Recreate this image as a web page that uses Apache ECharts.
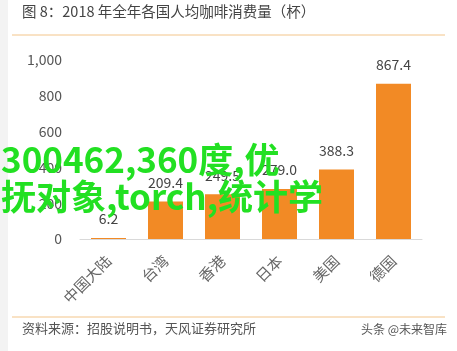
<!DOCTYPE html>
<html>
<head>
<meta charset="utf-8">
<title>2018 年全年各国人均咖啡消费量</title>
<script src="https://cdn.jsdelivr.net/npm/echarts@6/dist/echarts.min.js"></script>
<style>
  html, body { margin: 0; padding: 0; background: #fff; }
  #main { width: 457px; height: 351px; }
</style>
</head>
<body>
<div id="main"></div>
<script type="text/javascript">
// 数据
var regions = ['中国大陆', '台湾', '香港', '日本', '美国', '德国'];
var cups = [6.2, 209.4, 249.5, 279.0, 388.3, 867.4];
var yTicks = [0, 200, 400, 600, 800, 1000];

var font = '"Noto Sans CJK SC", "Noto Sans", sans-serif';
var myChart = echarts.init(document.getElementById('main'));

var option = {
    backgroundColor: '#ffffff',
    animation: false,
    grid: { left: 80, right: 35, top: 60, bottom: 112 },
    xAxis: {
        type: 'category',
        data: regions,
        axisLine: { lineStyle: { color: '#d9d9d9', width: 1 } },
        axisTick: { show: false },
        axisLabel: { rotate: 45, color: '#666', fontSize: 15, fontFamily: font, margin: 19 }
    },
    yAxis: {
        type: 'value',
        min: yTicks[0],
        max: yTicks[yTicks.length - 1],
        interval: 200,
        splitLine: { show: false },
        axisLine: { show: false },
        axisTick: { show: false },
        axisLabel: {
            color: '#555', fontSize: 14, fontFamily: font, margin: 18,
            formatter: function (v) { return v.toLocaleString('en-US'); }
        }
    },
    series: [{
        type: 'bar',
        data: cups,
        barWidth: 35,
        itemStyle: { color: '#f28a25' },
        label: {
            show: true, position: 'top', distance: 12, color: '#444', fontSize: 14, fontFamily: font,
            formatter: function (p) { return p.value.toFixed(1); }
        }
    }],
    graphic: [
        { type: 'rect', left: 0, top: 0, shape: { width: 8, height: 351 }, style: { fill: '#f3f3f3' }, silent: true },
        { type: 'text', left: 22, top: 4, style: { text: '图 8：2018 年全年各国人均咖啡消费量（杯）', fill: '#444', font: '14.5px ' + font } },
        { type: 'line', shape: { x1: 12, y1: 35, x2: 445, y2: 35 }, style: { stroke: '#f3c58a', lineWidth: 1 } },
        { type: 'line', shape: { x1: 12, y1: 317, x2: 445, y2: 317 }, style: { stroke: '#f3c58a', lineWidth: 1 } },
        { type: 'text', left: 22, top: 322, style: { text: '资料来源：招股说明书，天风证券研究所', fill: '#555', font: '13px ' + font } },
        { type: 'text', right: 10, top: 323, style: { text: '头条 @未来智库', fill: '#555', font: '12px ' + font } },
        { type: 'text', left: 1, top: 142, z: 100, style: { text: '300462,360度,优', fill: '#22e022', font: 'bold 35px ' + font } },
        { type: 'text', left: 1, top: 179, z: 100, style: { text: '抚对象,torch,统计学', fill: '#22e022', font: 'bold 35px ' + font } }
    ]
};

myChart.setOption(option);
</script>
</body>
</html>
